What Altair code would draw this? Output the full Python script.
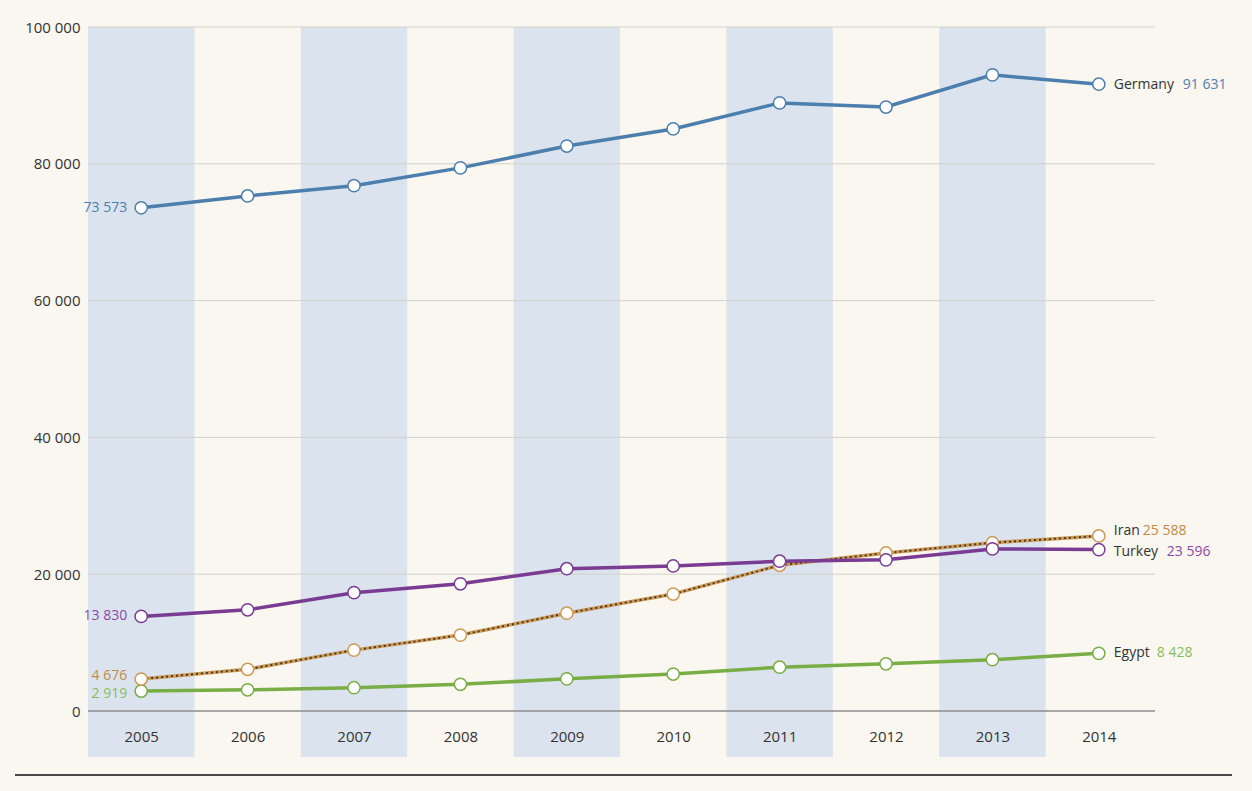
import altair as alt
import pandas as pd

years = list(range(2005, 2015))
germany = [73573, 75300, 76800, 79400, 82600, 85100, 88900, 88300, 93000, 91631]
turkey = [13830, 14800, 17300, 18600, 20800, 21200, 21900, 22100, 23700, 23596]
iran = [4676, 6100, 8900, 11100, 14300, 17100, 21300, 23100, 24600, 25588]
egypt = [2919, 3100, 3400, 3900, 4700, 5400, 6400, 6900, 7500, 8428]
band_years = [2005, 2007, 2009, 2011, 2013]
grid_values = [0, 20000, 40000, 60000, 80000, 100000]

series = {"Germany": germany, "Turkey": turkey, "Iran": iran, "Egypt": egypt}
rows = []
for name, vals in series.items():
    for y, v in zip(years, vals):
        rows.append({"country": name, "year": y, "value": v})
df = pd.DataFrame(rows)

bands_df = pd.DataFrame({"year": band_years})
bands_df["x0"] = bands_df["year"] - 0.5
bands_df["x1"] = bands_df["year"] + 0.5
grid_df = pd.DataFrame({"v": grid_values})

FONT = "Open Sans"
W, H = 1064, 684

xscale = alt.Scale(domain=[2004.5, 2014.5], nice=False, zero=False)
yscale = alt.Scale(domain=[0, 100000], nice=False)

x_axis = alt.Axis(values=years, format="d", ticks=False, domain=False, grid=False,
                  labelPadding=18, labelFontSize=15, labelFont=FONT, labelColor="#333333",
                  labelOverlap=False, labelBound=False, labelFlush=False, title=None,
                  zindex=1)
y_axis = alt.Axis(values=grid_values, ticks=False, domain=False, grid=False,
                  labelPadding=8, labelFontSize=15, labelFont=FONT, labelColor="#333333",
                  labelOverlap=False,
                  labelExpr="replace(format(datum.value, ','), ',', ' ')", title=None)

bands = alt.Chart(bands_df).mark_rect(color="#dbe3ee").encode(
    x=alt.X("x0:Q", scale=xscale, axis=x_axis),
    x2="x1:Q",
    y=alt.value(0),
    y2=alt.value(H + 46),
)

grid = alt.Chart(grid_df).mark_rule().encode(
    y=alt.Y("v:Q", scale=yscale, axis=y_axis),
    x=alt.value(0),
    x2=alt.value(W + 3),
    color=alt.condition("datum.v == 0", alt.value("#8c8c8c"), alt.value("#d2d2cc")),
    strokeWidth=alt.condition("datum.v == 0", alt.value(1.6), alt.value(1)),
)

colors = {
    "Germany": ("#4d7fae", "#4f7fae"),
    "Turkey": ("#7a3b93", "#8c4aa8"),
    "Iran": ("#cf9a55", "#c48a48"),
    "Egypt": ("#79ad45", "#86bd5a"),
}
# name dx, number dx, dy for right labels
right_pos = {
    "Germany": (15, 84, 1),
    "Turkey": (15, 68, 2),
    "Iran": (15, 44, -5),
    "Egypt": (15, 58, 0),
}
left_dy = {"Germany": 0, "Turkey": 0, "Iran": -3, "Egypt": 3}

layers = [bands, grid]
for name in ["Egypt", "Iran", "Turkey", "Germany"]:
    lc, tc = colors[name]
    src = alt.Chart(df).transform_filter(alt.datum.country == name)
    enc = dict(x=alt.X("year:Q", scale=xscale, axis=x_axis),
               y=alt.Y("value:Q", scale=yscale, axis=y_axis))
    if name == "Iran":
        layers.append(src.mark_line(color=lc, strokeWidth=3.5).encode(**enc))
        layers.append(src.mark_line(color="#4a3a2a", strokeWidth=2, strokeDash=[2, 3]).encode(**enc))
    else:
        layers.append(src.mark_line(color=lc, strokeWidth=3.5).encode(**enc))
    layers.append(src.mark_point(filled=True, fill="white", stroke=lc, strokeWidth=1.5,
                                 size=150, opacity=1).encode(**enc))
    lab = src.transform_calculate(label="replace(format(datum.value, ','), ',', ' ')")
    layers.append(lab.transform_filter(alt.datum.year == years[0]).mark_text(
        align="right", baseline="middle", dx=-14, dy=left_dy[name], font=FONT, fontSize=14,
        color=tc).encode(text="label:N", **enc))
    ndx, vdx, dy = right_pos[name]
    layers.append(lab.transform_filter(alt.datum.year == years[-1]).mark_text(
        align="left", baseline="middle", dx=ndx, dy=dy, font=FONT, fontSize=14,
        color="#333333").encode(text="country:N", **enc))
    layers.append(lab.transform_filter(alt.datum.year == years[-1]).mark_text(
        align="left", baseline="middle", dx=vdx, dy=dy, font=FONT, fontSize=14,
        color=tc).encode(text="label:N", **enc))

bottom = alt.Chart(pd.DataFrame({"a": [0]})).mark_rule(color="#4a4a4a", strokeWidth=2).encode(
    x=alt.value(-73), x2=alt.value(1144), y=alt.value(748))
layers.append(bottom)

chart = alt.layer(*layers).properties(
    width=W, height=H,
    padding={"left": 88, "top": 27, "right": 100, "bottom": 80},
    autosize=alt.AutoSizeParams(type="none"),
).configure(background="#f9f7ef").configure_view(stroke=None)

chart.save("out.html", embed_options={"renderer": "svg", "actions": False})
